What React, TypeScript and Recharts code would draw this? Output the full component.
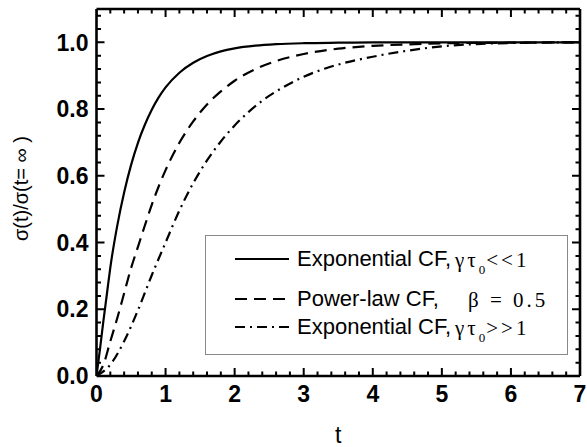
import React from 'react';
import { LineChart, Line, XAxis, YAxis, Legend, Label } from 'recharts';

// ---- data ----
const solidT = [0, 0.05, 0.1, 0.15, 0.2, 0.3, 0.4, 0.5, 0.6, 0.7, 0.8, 0.9, 1.0, 1.2, 1.4, 1.6, 1.8, 2.0, 2.3, 2.6, 3.0, 3.5, 4.0, 5.0, 6.0, 7.0];
const solidV = [0, 0.08, 0.165, 0.245, 0.325, 0.45, 0.55, 0.632, 0.699, 0.753, 0.798, 0.835, 0.865, 0.909, 0.939, 0.959, 0.973, 0.982, 0.99, 0.9945, 0.9975, 0.999, 1.0, 1.0, 1.0, 1.0];

const dashT = [0, 0.1, 0.2, 0.3, 0.4, 0.5, 0.6, 0.7, 0.8, 0.9, 1.0, 1.2, 1.4, 1.6, 1.8, 2.0, 2.3, 2.6, 3.0, 3.5, 4.0, 4.5, 5.0, 6.0, 7.0];
const dashV = [0, 0.034, 0.104, 0.173, 0.248, 0.323, 0.387, 0.451, 0.513, 0.568, 0.617, 0.699, 0.763, 0.814, 0.853, 0.885, 0.92, 0.944, 0.965, 0.981, 0.9895, 0.994, 0.997, 0.999, 1.0];

const dotDashT = [0, 0.2, 0.4, 0.6, 0.8, 1.0, 1.2, 1.4, 1.6, 1.8, 2.0, 2.2, 2.4, 2.7, 3.0, 3.3, 3.6, 4.0, 4.5, 5.0, 5.5, 6.0, 7.0];
const dotDashV = [0, 0.034, 0.104, 0.197, 0.302, 0.4, 0.496, 0.578, 0.646, 0.703, 0.751, 0.791, 0.825, 0.865, 0.897, 0.921, 0.939, 0.957, 0.975, 0.988, 0.995, 0.998, 1.0];

const xMajorTicks = [0, 1, 2, 3, 4, 5, 6, 7];
const xMinorTicks = [0.2, 0.4, 0.6, 0.8, 1.2, 1.4, 1.6, 1.8, 2.2, 2.4, 2.6, 2.8, 3.2, 3.4, 3.6, 3.8, 4.2, 4.4, 4.6, 4.8, 5.2, 5.4, 5.6, 5.8, 6.2, 6.4, 6.6, 6.8];
const yMajorTicks = [0, 0.2, 0.4, 0.6, 0.8, 1.0];
const yMinorTicks = [0.04, 0.08, 0.12, 0.16, 0.24, 0.28, 0.32, 0.36, 0.44, 0.48, 0.52, 0.56, 0.64, 0.68, 0.72, 0.76, 0.84, 0.88, 0.92, 0.96, 1.04, 1.08];

const legendMain = ['Exponential CF,', 'Power-law CF,', 'Exponential CF,'];
const legendSerif = ['γτ', 'β = 0.5', 'γτ'];
const legendSub = ['0', '', '0'];
const legendTail = ['<<1', '', '>>1'];

const xLabel = 't';
const yLabel = 'σ(t)/σ(t= ∞ )';

// ---- domains & styles ----
const X_DOMAIN: [number, number] = [0, 7];
const Y_DOMAIN: [number, number] = [0, 1.1];
const PLOT_W = 483.5;
const PLOT_H = 367;
const xPerPx = (X_DOMAIN[1] - X_DOMAIN[0]) / PLOT_W;
const yPerPx = (Y_DOMAIN[1] - Y_DOMAIN[0]) / PLOT_H;
const MAJ_PX = 8;
const MIN_PX = 4.5;
const X_TICK_MARGIN = 10;
const Y_TICK_MARGIN = 8;

const dashes = [undefined, '12 7', '10 5 2 5'];
const rowBaselines = [31, 71, 99];
const serifLeft = [249, 262, 249];
const SANS = '"Liberation Sans", Arial, sans-serif';
const SERIF = '"Liberation Serif", "Times New Roman", serif';
const TINY = 0.01;

const isMajor = (list: number[], v: number) => list.some((m) => Math.abs(m - v) < 1e-9);
const xAllTicks = [...xMajorTicks, ...xMinorTicks].sort((a, b) => a - b);
const yAllTicks = [...yMajorTicks, ...yMinorTicks].sort((a, b) => a - b);

const toData = (ts: number[], vs: number[]) => ts.map((t, i) => ({ t, v: vs[i] }));
const solidData = toData(solidT, solidV);
const dashData = toData(dashT, dashV);
const dotDashData = toData(dotDashT, dotDashV);

// tick-mark segments (broken by nulls), placed through the chart scales
type P = { t: number; v: number | null };
const xLen = (v: number) => (isMajor(xMajorTicks, v) ? MAJ_PX : MIN_PX);
const yLen = (v: number) => (isMajor(yMajorTicks, v) ? MAJ_PX : MIN_PX);
const bottomTickData: P[] = xAllTicks.flatMap((v) => [
  { t: v, v: Y_DOMAIN[0] }, { t: v, v: Y_DOMAIN[0] + xLen(v) * yPerPx }, { t: v, v: null },
]);
const topTickData: P[] = xAllTicks.flatMap((v) => [
  { t: v, v: Y_DOMAIN[1] }, { t: v, v: Y_DOMAIN[1] - xLen(v) * yPerPx }, { t: v, v: null },
]);
const leftTickData: P[] = yAllTicks.flatMap((v) => [
  { t: X_DOMAIN[0], v }, { t: X_DOMAIN[0] + yLen(v) * xPerPx, v }, { t: X_DOMAIN[0], v: null },
]);
const rightTickData: P[] = yAllTicks.flatMap((v) => [
  { t: X_DOMAIN[1], v }, { t: X_DOMAIN[1] - yLen(v) * xPerPx, v }, { t: X_DOMAIN[1], v: null },
]);
const tickSeries = [bottomTickData, topTickData, leftTickData, rightTickData];

const renderLegend = () => (
  <div style={{ position: 'relative', width: 363, height: 120, border: '1.5px solid #888', boxSizing: 'border-box', background: '#fff', color: '#000' }}>
    {legendMain.map((txt, i) => (
      <React.Fragment key={i}>
        <svg width={56} height={6} style={{ position: 'absolute', left: 29, top: rowBaselines[i] - 8 - 3 }}>
          <line x1={0} y1={3} x2={54} y2={3} stroke="#000" strokeWidth={2.2} strokeDasharray={dashes[i]} />
        </svg>
        <div style={{ position: 'absolute', left: 91, top: rowBaselines[i] - 19, fontFamily: SANS, fontSize: 22, lineHeight: '22px', whiteSpace: 'nowrap', color: '#000' }}>{txt}</div>
        <div style={{ position: 'absolute', left: serifLeft[i], top: rowBaselines[i] - 17, fontFamily: SERIF, fontSize: 21, lineHeight: '20px', whiteSpace: 'pre', letterSpacing: 3, color: '#000' }}>
          {legendSerif[i]}
          {legendSub[i] ? <span style={{ fontSize: 13, position: 'relative', top: 7, color: '#000', letterSpacing: 1 }}>{legendSub[i]}</span> : null}
          {legendTail[i]}
        </div>
      </React.Fragment>
    ))}
  </div>
);

const renderYLabel = (props: any) => {
  const vb = props.viewBox || { x: 0, y: 9, width: 96, height: 367 };
  const cx = 21;
  const cy = vb.y + vb.height / 2 - 4;
  return (
    <text x={cx} y={cy} transform={`rotate(-90, ${cx}, ${cy})`} textAnchor="middle" dominantBaseline="central" fill="#000" fontFamily={SANS} fontSize={20}>
      {yLabel}
    </text>
  );
};

const XTick = (props: any) => {
  const { x, y, payload } = props;
  const v = payload.value as number;
  if (!isMajor(xMajorTicks, v)) return <g />;
  return <text x={x} y={y} dy="0.71em" textAnchor="middle" fill="#000" fontFamily={SANS} fontSize={23} fontWeight="bold">{String(v)}</text>;
};

const YTick = (props: any) => {
  const { x, y, payload } = props;
  const v = payload.value as number;
  if (!isMajor(yMajorTicks, v)) return <g />;
  return <text x={x} y={y} dy="0.355em" textAnchor="end" fill="#000" fontFamily={SANS} fontSize={23} fontWeight="bold">{v.toFixed(1)}</text>;
};

const frame = { stroke: '#000', strokeWidth: 2.6 };

export default function App() {
  return (
    <div>
      <style>{`body{margin:0;background:#fff}`}</style>
      <LineChart width={587} height={447} margin={{ top: 9, right: 7, bottom: 0, left: 0 }}>
        <XAxis xAxisId="x" dataKey="t" type="number" domain={X_DOMAIN} ticks={xMajorTicks} allowDataOverflow interval={0}
          tickLine={false} tickSize={0} tickMargin={X_TICK_MARGIN} axisLine={frame} height={71} tick={XTick}>
          <Label value={xLabel} position="insideBottom" offset={4} style={{ fill: '#000', fontSize: 23, fontFamily: SANS }} />
        </XAxis>
        <XAxis xAxisId="tFrame" type="number" domain={X_DOMAIN} ticks={xMajorTicks} allowDataOverflow orientation="top" mirror
          tick={false} axisLine={frame} tickLine={false} height={TINY} />

        <YAxis yAxisId="y" dataKey="v" type="number" domain={Y_DOMAIN} ticks={yMajorTicks} allowDataOverflow interval={0}
          tickLine={false} tickSize={0} tickMargin={Y_TICK_MARGIN} axisLine={frame} width={96.5} tick={YTick}>
          <Label content={renderYLabel} />
        </YAxis>
        <YAxis yAxisId="rFrame" type="number" domain={Y_DOMAIN} ticks={yMajorTicks} allowDataOverflow orientation="right" mirror
          tick={false} axisLine={frame} tickLine={false} width={TINY} />

        <Legend layout="vertical" align="center" verticalAlign="middle" content={renderLegend}
          wrapperStyle={{ position: 'absolute', left: 205, top: 235, width: 363, height: 120 }} />

        {tickSeries.map((d, i) => (
          <Line key={`tk${i}`} xAxisId="x" yAxisId="y" data={d} dataKey="v" type="linear" stroke="#000" strokeWidth={2}
            dot={false} activeDot={false} connectNulls={false} legendType="none" isAnimationActive={false} />
        ))}

        <Line xAxisId="x" yAxisId="y" data={solidData} dataKey="v" name="solid" type="monotone" stroke="#000" strokeWidth={2.2} dot={false} isAnimationActive={false} />
        <Line xAxisId="x" yAxisId="y" data={dashData} dataKey="v" name="dash" type="monotone" stroke="#000" strokeWidth={2.2} strokeDasharray={dashes[1]} dot={false} isAnimationActive={false} />
        <Line xAxisId="x" yAxisId="y" data={dotDashData} dataKey="v" name="dotdash" type="monotone" stroke="#000" strokeWidth={2.2} strokeDasharray={dashes[2]} dot={false} isAnimationActive={false} />
      </LineChart>
    </div>
  );
}
